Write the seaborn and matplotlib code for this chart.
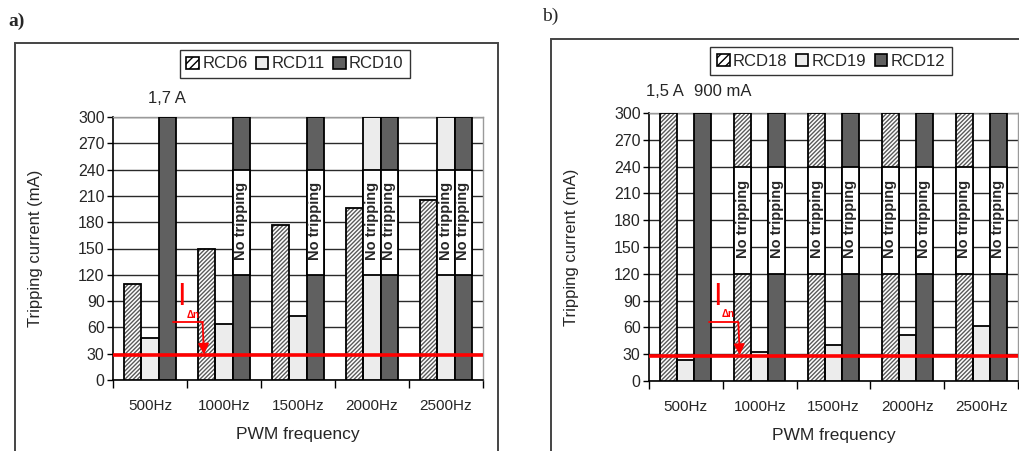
import matplotlib
matplotlib.use("Agg")
import matplotlib.pyplot as plt
import numpy as np
import pandas as pd
import seaborn as sns
from matplotlib.patches import Rectangle, Patch

# ---- data -------------------------------------------------------------
freqs = ["500Hz", "1000Hz", "1500Hz", "2000Hz", "2500Hz"]

a_names = ["RCD6", "RCD11", "RCD10"]
rcd6 = [110, 150, 177, 196, 205]
rcd11 = [48, 64, 73, 300, 300]
rcd10 = [300, 300, 300, 300, 300]
a_no_trip = {"RCD11": [False, False, False, True, True],
             "RCD10": [False, True, True, True, True]}

b_names = ["RCD18", "RCD19", "RCD12"]
rcd18 = [300, 300, 300, 300, 300]
rcd19 = [23, 33, 40, 52, 62]
rcd12 = [300, 300, 300, 300, 300]
b_no_trip = {"RCD18": [False, True, True, True, True],
             "RCD12": [False, True, True, True, True]}

i_dn = 28            # rated residual current line (mA)
y_ticks = list(range(0, 301, 30))

# ---- style ------------------------------------------------------------
sns.set_style("white")
plt.rcParams["font.family"] = ["Liberation Sans", "DejaVu Sans"]
plt.rcParams["hatch.linewidth"] = 1.0

fills = ["white", "#ececec", "#606060"]
hatches = ["////////", "", ""]

fig = plt.figure(figsize=(10.19, 4.51), dpi=100)


def long_frame(names, series):
    rows = []
    for name, vals in zip(names, series):
        for f, v in zip(freqs, vals):
            rows.append({"freq": f, "rcd": name, "value": v})
    return pd.DataFrame(rows)


def draw_panel(ax, names, series, no_trip):
    df = long_frame(names, series)
    sns.barplot(data=df, x="freq", y="value", hue="rcd", order=freqs,
                hue_order=names, palette=fills, width=0.69, gap=0,
                edgecolor="black", linewidth=1.3, legend=False,
                saturation=1, ax=ax, zorder=3)
    for cont, h in zip(ax.containers, hatches):
        for bar in cont:
            bar.set_zorder(3)
            if h:
                # grey hatch inside, black outline drawn on top
                bar.set_hatch(h)
                bar.set_edgecolor("#5a5a5a")
                bar.set_linewidth(0)
                ax.add_patch(Rectangle((bar.get_x(), bar.get_y()),
                                       bar.get_width(), bar.get_height(),
                                       fill=False, edgecolor="black",
                                       lw=1.3, zorder=3.5))
    # "No tripping" boxes over bars that never tripped
    for cont, name in zip(ax.containers, names):
        if name not in no_trip:
            continue
        for bar, flag in zip(cont, no_trip[name]):
            if not flag:
                continue
            x0, w = bar.get_x(), bar.get_width()
            ax.add_patch(Rectangle((x0, 120), w, 120, facecolor="white",
                                   edgecolor="black", lw=1.3, zorder=4))
            ax.text(x0 + w / 2, 181, "No tripping", rotation=90,
                    ha="center", va="center", fontsize=10.5,
                    fontweight="bold", zorder=5)

    ax.set_ylim(0, 300)
    ax.set_xlim(-0.5, len(freqs) - 0.5)
    ax.set_yticks(y_ticks)
    ax.yaxis.grid(True, color="#2a2a2a", lw=1.0, zorder=0)
    ax.set_axisbelow(True)
    ax.tick_params(axis="y", labelsize=11.5, length=4, width=1,
                   color="black", pad=2, left=True)
    ax.tick_params(axis="x", which="major", length=0, labelsize=11, pad=14)
    ax.set_xticks(np.arange(-0.5, len(freqs)), minor=True)
    ax.tick_params(axis="x", which="minor", length=6, width=1,
                   color="black", bottom=True)
    for side in ["left", "bottom"]:
        ax.spines[side].set_color("black")
        ax.spines[side].set_linewidth(1.2)
    for side in ["top", "right"]:
        ax.spines[side].set_color("#9a9a9a")
        ax.spines[side].set_linewidth(1.0)
    ax.set_xlabel("PWM frequency", fontsize=12.5, labelpad=10)
    ax.set_ylabel("Tripping current (mA)", fontsize=12, labelpad=6)

    # rated current I_Δn with arrow
    ax.axhline(i_dn, color="red", lw=2.6, zorder=6)
    ax.plot([0.31, 0.71], [66, 66], color="red", lw=1.3, zorder=6,
            clip_on=False)
    ax.annotate("", xy=(0.73, i_dn + 1), xytext=(0.71, 66),
                arrowprops=dict(arrowstyle="-|>", color="red", lw=1.3,
                                mutation_scale=16, shrinkA=0, shrinkB=0),
                zorder=6)
    ax.text(0.42, 77, "I", color="red", fontsize=22, ha="center",
            va="bottom", zorder=6)
    ax.text(0.49, 69, "Δn", color="red", fontsize=7, ha="left",
            va="bottom", fontweight="bold", zorder=6)
    return ax


# ---- panel a ----------------------------------------------------------
ax_a = fig.add_axes([113 / 1019, 1 - 380 / 451, 370 / 1019, 263 / 451])
draw_panel(ax_a, a_names, [rcd6, rcd11, rcd10], a_no_trip)
bar = ax_a.containers[2][0]
ax_a.annotate("1,7 A", xy=(bar.get_x() + bar.get_width() / 2, 300),
              xytext=(0, 8), textcoords="offset points", ha="center",
              va="bottom", fontsize=12, annotation_clip=False)
ax_a.yaxis.set_label_coords(-0.19, 0.5)

# ---- panel b ----------------------------------------------------------
ax_b = fig.add_axes([649 / 1019, 1 - 381 / 451, 369 / 1019, 268 / 451])
draw_panel(ax_b, b_names, [rcd18, rcd19, rcd12], b_no_trip)
bar18 = ax_b.containers[0][0]
bar12 = ax_b.containers[2][0]
ax_b.annotate("1,5 A", xy=(bar18.get_x() + bar18.get_width() / 2, 300),
              xytext=(-3, 10), textcoords="offset points", ha="center",
              va="bottom", fontsize=12, annotation_clip=False)
ax_b.annotate("900 mA", xy=(bar12.get_x(), 300),
              xytext=(0, 10), textcoords="offset points", ha="left",
              va="bottom", fontsize=12, annotation_clip=False)
ax_b.yaxis.set_label_coords(-0.19, 0.5)

# ---- legends ----------------------------------------------------------
for names, center in [(a_names, (295 / 1019, 1 - 64 / 451)),
                      (b_names, (831 / 1019, 1 - 61 / 451))]:
    handles = [Patch(facecolor=fc, edgecolor="black", hatch=h, lw=1.2)
               for fc, h in zip(fills, ["////", "", ""])]
    leg = fig.legend(handles, names, loc="center", bbox_to_anchor=center,
                     ncol=3, frameon=True, fancybox=False, fontsize=12,
                     handlelength=0.75, handleheight=0.75,
                     handletextpad=0.2, columnspacing=0.5, borderpad=0.4,
                     borderaxespad=0)
    leg.get_frame().set_edgecolor("black")
    leg.get_frame().set_linewidth(1.0)

# ---- panel frames and letters -----------------------------------------
fig.add_artist(Rectangle((15 / 1019, -0.05), (498 - 15) / 1019,
                         1.05 - 43 / 451, transform=fig.transFigure,
                         fill=False, edgecolor="#444444", lw=1.4))
fig.add_artist(Rectangle((551 / 1019, -0.05), 0.5,
                         1.05 - 39 / 451, transform=fig.transFigure,
                         fill=False, edgecolor="#444444", lw=1.4))
fig.text(8 / 1019, 1 - 21 / 451, "a)", fontsize=14, va="center",
         family=["Liberation Serif"], fontweight="bold")
fig.text(542 / 1019, 1 - 16 / 451, "b)", fontsize=14, va="center",
         family=["Liberation Serif"])

fig.savefig("out.png", dpi=100)
